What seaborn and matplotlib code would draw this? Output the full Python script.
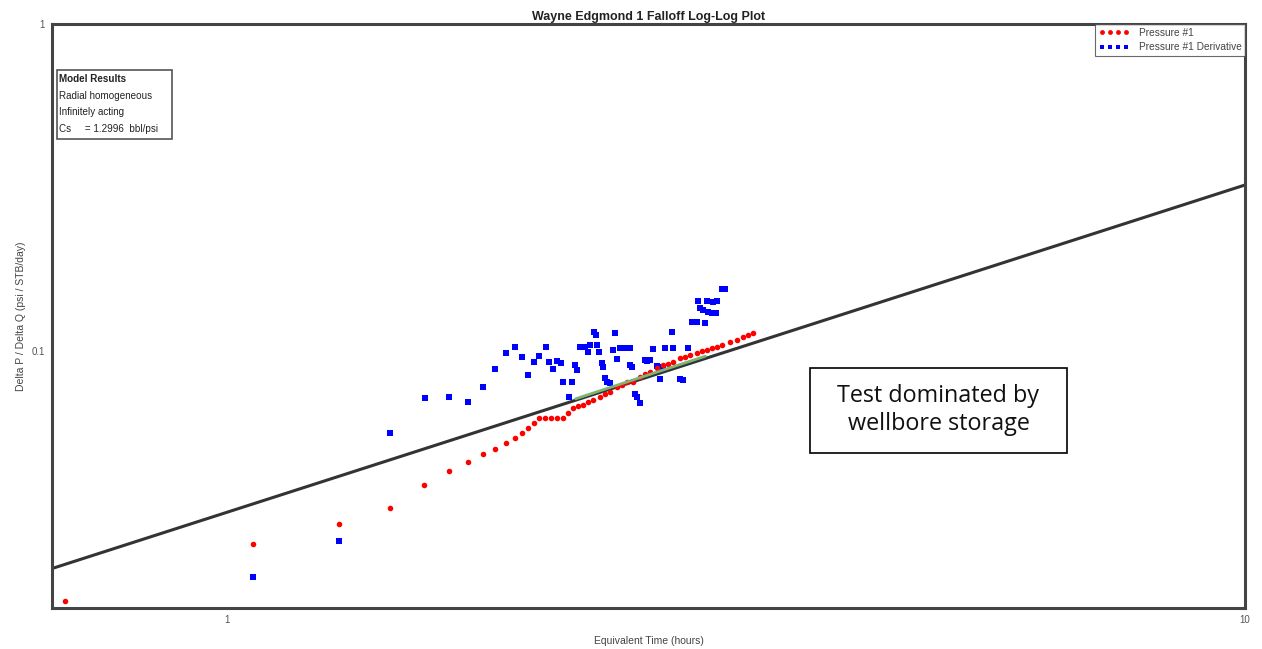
import seaborn as sns
import pandas as pd
import matplotlib.pyplot as plt

# dados (tempo equivalente em horas, delta P / delta Q)
red_t = [0.693, 1.061, 1.288, 1.446, 1.561, 1.652, 1.725, 1.784, 1.833, 1.879,
         1.918, 1.949, 1.975, 2.002, 2.025, 2.053, 2.081, 2.110, 2.138, 2.163,
         2.187, 2.212, 2.237, 2.263, 2.288, 2.325, 2.351, 2.378, 2.416, 2.443,
         2.471, 2.505, 2.545, 2.574, 2.603, 2.645, 2.681, 2.712, 2.743, 2.786,
         2.818, 2.850, 2.896, 2.929, 2.962, 2.995, 3.029, 3.063, 3.120, 3.170,
         3.213, 3.250, 3.287]
red_p = [0.0172, 0.0257, 0.0296, 0.0331, 0.0389, 0.0430, 0.0458, 0.0484, 0.0502, 0.0523,
         0.0542, 0.0561, 0.0581, 0.0602, 0.0624, 0.0624, 0.0624, 0.0624, 0.0624, 0.0646,
         0.0670, 0.0679, 0.0684, 0.0700, 0.0708, 0.0723, 0.0740, 0.0749, 0.0776, 0.0790,
         0.0804, 0.0804, 0.0833, 0.0850, 0.0863, 0.0887, 0.0905, 0.0915, 0.0926, 0.0950,
         0.0960, 0.0972, 0.0985, 0.1000, 0.1007, 0.1020, 0.1028, 0.1045, 0.1065, 0.1085,
         0.1104, 0.1120, 0.1135]

blue_t = [1.061, 1.288, 1.446, 1.565, 1.652, 1.725, 1.784, 1.833, 1.879, 1.918,
          1.949, 1.975, 2.002, 2.025, 2.058, 2.072, 2.090, 2.110, 2.128, 2.138,
          2.182, 2.168, 2.197, 2.207, 2.222, 2.247, 2.263, 2.273, 2.294, 2.304,
          2.309, 2.320, 2.336, 2.341, 2.351, 2.362, 2.378, 2.394, 2.405, 2.416,
          2.432, 2.449, 2.471, 2.488, 2.499, 2.516, 2.528, 2.545, 2.586, 2.488,
          2.574, 2.603, 2.621, 2.645, 2.663, 2.681, 2.693, 2.736, 2.743, 2.786,
          2.805, 2.837, 2.863, 2.896, 2.948, 2.915, 2.935, 2.969, 2.995, 3.022,
          2.902, 2.962, 3.002, 3.029, 3.063, 3.084]
blue_p = [0.0204, 0.0262, 0.0561, 0.0718, 0.0723, 0.0698, 0.0776, 0.0881, 0.0986, 0.1028,
          0.0959, 0.0845, 0.0926, 0.0965, 0.1028, 0.0926, 0.0881, 0.0932, 0.0919, 0.0804,
          0.0804, 0.0723, 0.0906, 0.0875, 0.1028, 0.1028, 0.0993, 0.1043, 0.1143, 0.1119,
          0.1043, 0.0993, 0.0919, 0.0894, 0.0827, 0.0804, 0.0798, 0.1007, 0.1135, 0.0945,
          0.1021, 0.1021, 0.1021, 0.0906, 0.0894, 0.0739, 0.0723, 0.0693, 0.0932, 0.1021,
          0.0939, 0.0939, 0.1014, 0.0900, 0.0821, 0.0894, 0.1021, 0.1143, 0.1021, 0.0821,
          0.0815, 0.1021, 0.1227, 0.1227, 0.1218, 0.1354, 0.1335, 0.1316, 0.1307, 0.1307,
          0.1422, 0.1422, 0.1412, 0.1422, 0.1547, 0.1547]

# reta de inclinacao unitaria (estocagem no poco)
ws_t = [0.6, 10.0]
ws_p = [0.0193, 0.322]

# curva do modelo
model_t = [2.2, 2.95]
model_p = [0.0715, 0.0965]

model_lines = ["Model Results", "Radial homogeneous", "Infinitely acting", "Cs     = 1.2996  bbl/psi"]

df_red = pd.DataFrame({"t": red_t, "p": red_p})
df_blue = pd.DataFrame({"t": blue_t, "p": blue_p})
df_ws = pd.DataFrame({"t": ws_t, "p": ws_p})
df_model = pd.DataFrame({"t": model_t, "p": model_p})

sns.set_theme(style="white")
plt.rcParams['font.family'] = ['Liberation Sans', 'DejaVu Sans']

fig = plt.figure(figsize=(12.62, 6.49), dpi=100)
ax = fig.add_axes([0.0412, 0.0632, 0.9453, 0.8998])

sns.lineplot(x="t", y="p", data=df_ws, color="#333333", linewidth=2.2, sort=False, legend=False, ax=ax)
sns.scatterplot(x="t", y="p", data=df_blue, color="#0000ff", marker="s", s=16, linewidth=0,
                label="Pressure #1 Derivative", ax=ax, zorder=3)
sns.scatterplot(x="t", y="p", data=df_red, color="#ff0000", marker="o", s=16, linewidth=0,
                label="Pressure #1", ax=ax, zorder=4)
sns.lineplot(x="t", y="p", data=df_model, color="#33cccc", linewidth=2, sort=False, legend=False, ax=ax, zorder=5)
sns.lineplot(x="t", y="p", data=df_model, color="#e69500", linewidth=0.8, sort=False, legend=False, ax=ax, zorder=6)

ax.set_xscale("log")
ax.set_yscale("log")
ax.set_xlim(0.673, 10)
ax.set_ylim(0.0164, 1)
ax.set_xticks([1, 10])
ax.set_xticklabels(["1", "10"])
ax.set_yticks([0.1, 1])
ax.set_yticklabels(["0.1", "1"])
ax.minorticks_off()
ax.tick_params(axis="both", labelsize=7, colors="#555555", length=3, width=0.8, pad=2)

for s in ax.spines.values():
    s.set_color("#444444")
    s.set_linewidth(2.2)

ax.set_xlabel("Equivalent Time (hours)", fontsize=7.5, color="#444444", labelpad=8)
ax.set_ylabel("Delta P / Delta Q (psi / STB/day)", fontsize=7.5, color="#444444", labelpad=4)
ax.set_title("Wayne Edgmond 1 Falloff Log-Log Plot", fontsize=9, fontweight="bold", color="#222222", pad=3)

# legenda no canto superior direito
handles, labels = ax.get_legend_handles_labels()
order = [labels.index("Pressure #1"), labels.index("Pressure #1 Derivative")]
leg = ax.legend([handles[i] for i in order], [labels[i] for i in order],
                loc="upper right", scatterpoints=4, fontsize=7.3, frameon=True, fancybox=False,
                borderaxespad=0, handlelength=3.0, handletextpad=0.9, borderpad=0.35,
                labelspacing=0.45, scatteryoffsets=[0.5])
leg.get_frame().set_edgecolor("#444444")
leg.get_frame().set_linewidth(0.8)
for h in leg.legend_handles:
    h.set_sizes([12])
for t in leg.get_texts():
    t.set_color("#444444")

# caixa de resultados do modelo
line_y = [0.906, 0.877, 0.849, 0.820]
for i, txt in enumerate(model_lines):
    ax.text(0.006, line_y[i], txt, transform=ax.transAxes, fontsize=7.1,
            fontweight="bold" if i == 0 else "normal", color="#222222", va="center", ha="left")
ax.add_patch(plt.Rectangle((0.0042, 0.803), 0.0965, 0.118, transform=ax.transAxes,
                           fill=False, edgecolor="#555555", linewidth=1.2))

# anotacao
ax.add_patch(plt.Rectangle((0.6354, 0.2654), 0.2154, 0.1456, transform=ax.transAxes,
                           facecolor="white", edgecolor="black", linewidth=1.2, zorder=7))
ax.text(0.7431, 0.339, "Test dominated by\nwellbore storage", transform=ax.transAxes,
        fontsize=16.8, family=["Open Sans", "DejaVu Sans"], color="#111111", ha="center", va="center",
        linespacing=1.25, zorder=8)

plt.savefig("out.png", dpi=100)
